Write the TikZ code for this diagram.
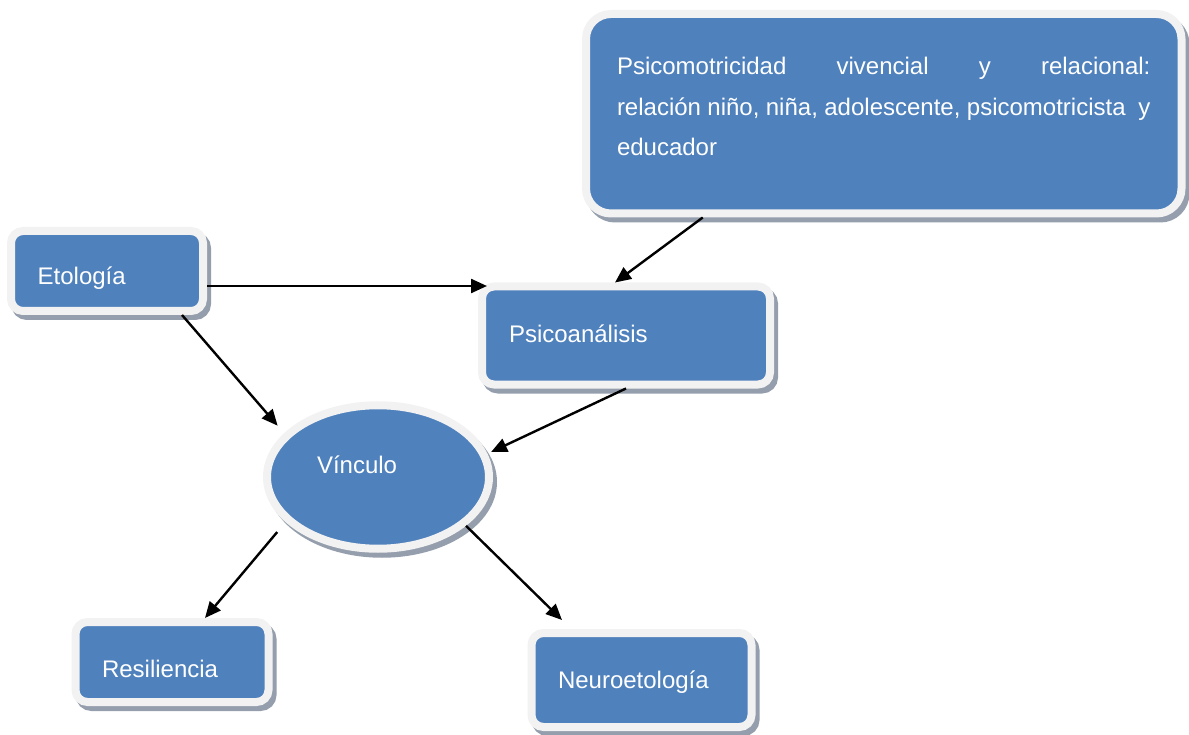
\documentclass[tikz,border=0pt]{standalone}
\usepackage{fontspec}
\setmainfont{Liberation Sans}
\usetikzlibrary{arrows.meta, shapes.geometric, shadows}
\definecolor{boxblue}{RGB}{79,129,189}
\definecolor{boxrim}{RGB}{242,242,242}
\definecolor{shadowgray}{RGB}{148,158,172}
\tikzset{%
	concept base/.style={
		fill=boxblue,
		draw=boxrim,
		line width=8pt,
		text=white,
		font=\fontsize{24}{40.5}\selectfont,
		drop shadow={shadow xshift=4pt, shadow yshift=-5pt, opacity=1,
			fill=shadowgray, draw=shadowgray, line width=8pt}
	},
	concept box/.style={
		concept base,
		rectangle,
		rounded corners=12pt,
		align=left,
		inner ysep=0pt
	},
	concept oval/.style={
		concept base,
		ellipse,
		align=left,
		inner sep=0pt
	},
	link/.style={
		-{Triangle[length=16pt,width=14pt]},
		line width=2.4pt,
		black
	},
}
\begin{document}
\begin{tikzpicture}[x=1pt, y=-1pt]
	\useasboundingbox (0,0) rectangle (1189,735);
	
	% Concept boxes
	\node[concept box, rounded corners=25pt, minimum width=595.5pt, minimum height=199.5pt,
		text width=533.5pt, inner xsep=31pt, align=justify, text height=18pt, text depth=95.5pt]
		(psico) at (883.75,113.75) {\tolerance=10000 Psicomotricidad vivencial y relacional:\linebreak relación niño, niña, adolescente, psicomotricista\ \ y\linebreak educador};
	\node[concept box, minimum width=192pt, minimum height=80pt, text width=138.6pt,
		inner xsep=26.7pt, text height=28pt, text depth=0pt] (eto) at (107,271) {Etología};
	\node[concept box, minimum width=288pt, minimum height=98pt, text width=234pt,
		inner xsep=27pt, text height=20pt, text depth=7pt] (psa) at (626,335.5) {Psicoanálisis};
	\node[concept box, minimum width=193pt, minimum height=80pt, text width=140pt,
		inner xsep=26.5pt, text height=30pt, text depth=0pt] (res) at (172,662) {Resiliencia};
	\node[concept box, minimum width=220pt, minimum height=94pt, text width=167pt,
		inner xsep=26.5pt, text height=20pt, text depth=4pt] (neu) at (641.5,680) {Neuroetología};
	
	% Central oval
	\node[concept oval, minimum width=222pt, minimum height=143.5pt, text width=122pt,
		text height=20pt, text depth=28pt] (vin) at (378,477) {Vínculo};
	
	% Arrows
	\draw[link] ([yshift=-15pt]eto.east) -- ([xshift=9pt,yshift=-3.5pt]psa.north west);
	\draw[link, shorten >=10pt] ([xshift=-25pt]eto.south east) -- (vin.155);
	\draw[link] ([xshift=-181pt]psico.south) -- ([xshift=-11pt]psa.north);
	\draw[link, shorten >=4pt] (psa.south) -- (vin.12);
	\draw[link, shorten <=13pt] (vin.206) -- ([xshift=33pt]res.north);
	\draw[link] (vin.331) -- ([xshift=34.5pt,yshift=9pt]neu.north west);
\end{tikzpicture}
\end{document}
